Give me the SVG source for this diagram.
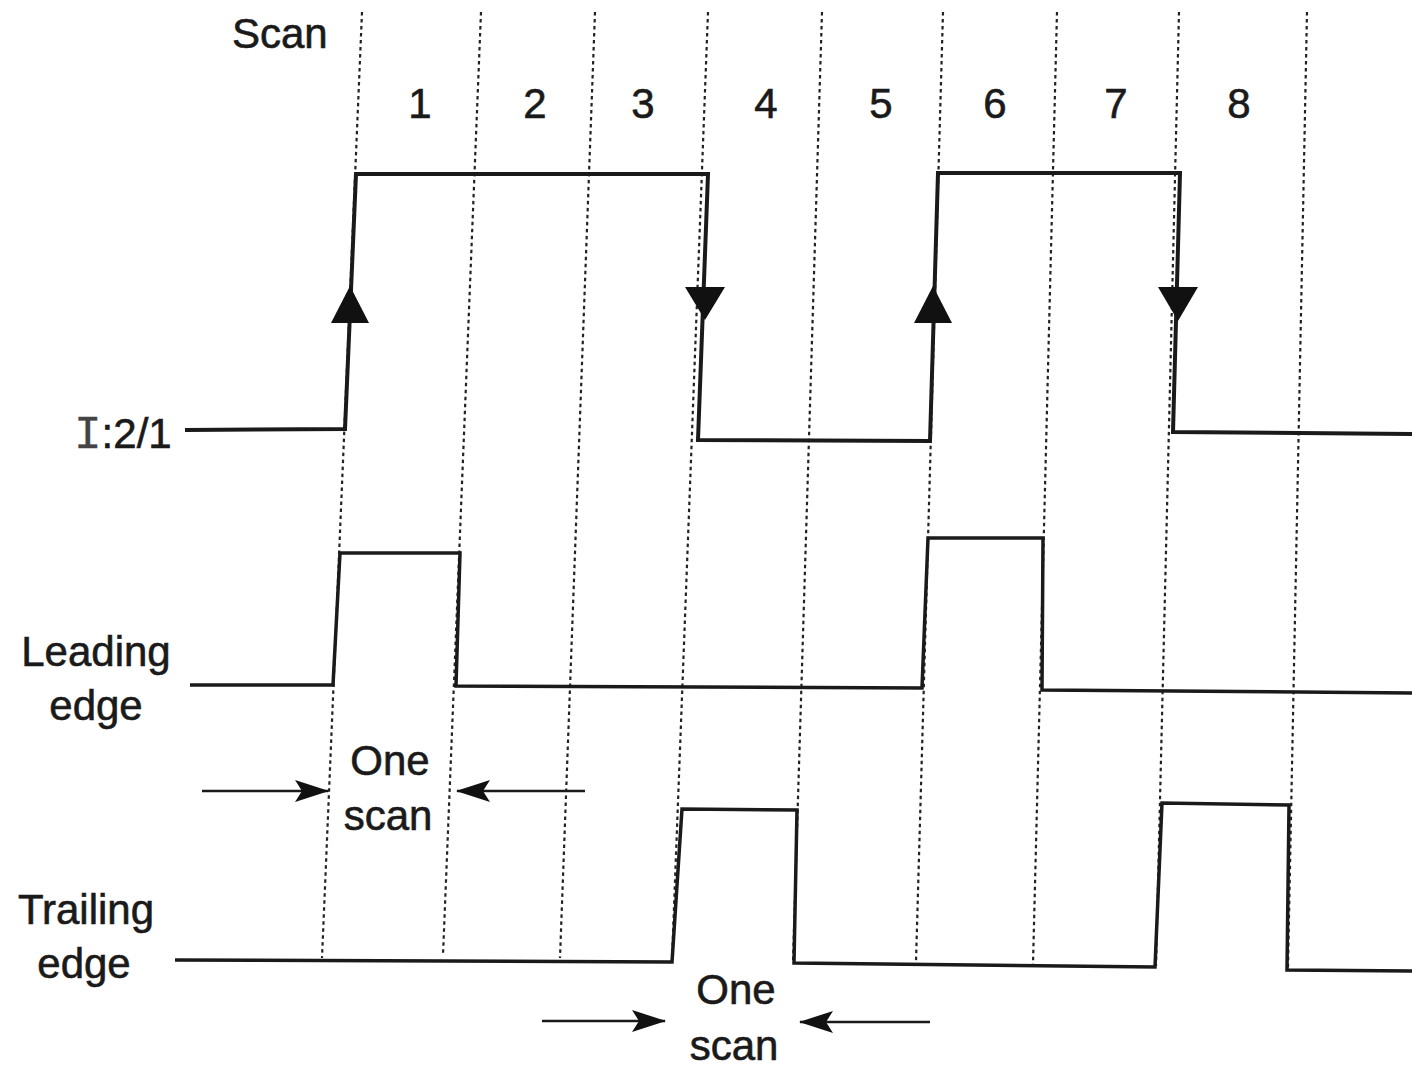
<svg xmlns="http://www.w3.org/2000/svg" width="1412" height="1067" viewBox="0 0 1412 1067">
<defs>
<style>
.txt{font-family:"Liberation Sans",Arial,sans-serif;font-size:42px;fill:#1a1a1a;stroke:#1a1a1a;stroke-width:0.6}
.mono{font-family:"Liberation Mono","Courier New",monospace;font-weight:normal;fill:#444;stroke:#444;stroke-width:0.3}
.grid{stroke:#222;stroke-width:2.2;stroke-dasharray:3.5 3.5;fill:none}
.sig{stroke:#1a1a1a;stroke-width:4;fill:none;stroke-linejoin:miter}
.sig2{stroke:#1a1a1a;stroke-width:3.5;fill:none}
.dim{stroke:#1a1a1a;stroke-width:2.5;fill:none}
.head{fill:#111}
</style>
<marker id="ah" viewBox="0 0 34 22" refX="33" refY="11" markerWidth="34" markerHeight="22" markerUnits="userSpaceOnUse" orient="auto">
<path d="M0,0 L34,11 L0,22 L7,11 Z" fill="#111"/>
</marker>
</defs>
<rect width="1412" height="1067" fill="#fff"/>

<g id="gridlines">
<line class="grid" x1="362" y1="12" x2="322" y2="958"/>
<line class="grid" x1="481" y1="12" x2="443" y2="955"/>
<line class="grid" x1="595" y1="12" x2="560" y2="958"/>
<line class="grid" x1="708" y1="12" x2="672" y2="960"/>
<line class="grid" x1="822" y1="12" x2="793" y2="962"/>
<line class="grid" x1="943" y1="12" x2="916" y2="962"/>
<line class="grid" x1="1057" y1="12" x2="1033" y2="964"/>
<line class="grid" x1="1179" y1="12" x2="1156" y2="966"/>
<line class="grid" x1="1307" y1="12" x2="1288" y2="968"/>
</g>

<g id="labels">
<text class="txt" x="232" y="48">Scan</text>
<text class="txt" x="420" y="118" text-anchor="middle">1</text>
<text class="txt" x="535" y="118" text-anchor="middle">2</text>
<text class="txt" x="643" y="118" text-anchor="middle">3</text>
<text class="txt" x="766" y="118" text-anchor="middle">4</text>
<text class="txt" x="881" y="118" text-anchor="middle">5</text>
<text class="txt" x="995" y="118" text-anchor="middle">6</text>
<text class="txt" x="1116" y="118" text-anchor="middle">7</text>
<text class="txt" x="1239" y="118" text-anchor="middle">8</text>
<text class="txt" x="74" y="448"><tspan class="mono" font-size="46">I</tspan>:2/1</text>
<text class="txt" x="96" y="666" text-anchor="middle">Leading</text>
<text class="txt" x="96" y="720" text-anchor="middle">edge</text>
<text class="txt" x="86" y="924" text-anchor="middle">Trailing</text>
<text class="txt" x="84" y="978" text-anchor="middle">edge</text>
<text class="txt" x="390" y="775" text-anchor="middle">One</text>
<text class="txt" x="388" y="830" text-anchor="middle">scan</text>
<text class="txt" x="736" y="1004" text-anchor="middle">One</text>
<text class="txt" x="734" y="1060" text-anchor="middle">scan</text>
</g>

<g id="signal-I21">
<polyline class="sig" points="185,430 345,429 356,174 708,174 698,440 930,441 938,173 1180,173 1173,432 1412,434"/>
<polygon class="head" points="350,286 331,323 369,323"/>
<polygon class="head" points="685,287 725,287 705,320"/>
<polygon class="head" points="933,286 914,323 952,323"/>
<polygon class="head" points="1158,287 1198,287 1178,321"/>
</g>

<g id="signal-leading">
<polyline class="sig2" points="190,685 333,685 340,553 460,553 456,686 922,688 928,538 1043,538 1042,690 1412,693"/>
</g>

<g id="signal-trailing">
<polyline class="sig2" points="175,960 672,962 682,809 797,810 794,963 1155,967 1162,803 1289,805 1287,970 1412,971"/>
</g>

<g id="connectors">
<line class="dim" x1="202" y1="791" x2="328" y2="791" marker-end="url(#ah)"/>
<line class="dim" x1="585" y1="791" x2="457" y2="791" marker-end="url(#ah)"/>
<line class="dim" x1="542" y1="1021" x2="665" y2="1021" marker-end="url(#ah)"/>
<line class="dim" x1="930" y1="1022" x2="800" y2="1022" marker-end="url(#ah)"/>
</g>
</svg>
